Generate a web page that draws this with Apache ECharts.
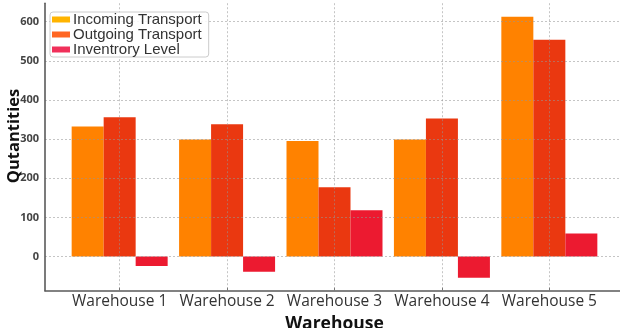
<!DOCTYPE html>
<html>
<head>
<meta charset="utf-8">
<script src="https://cdn.jsdelivr.net/npm/echarts@6/dist/echarts.min.js"></script>
<style>
  html, body { margin: 0; padding: 0; background: #fff; }
  #chart { width: 620px; height: 328px; }
</style>
</head>
<body>
<div id="chart"></div>
<script>
// Warehouse transport figures
const warehouses = ['Warehouse 1', 'Warehouse 2', 'Warehouse 3', 'Warehouse 4', 'Warehouse 5'];
const incomingTransport = [332, 299, 295, 299, 613];
const outgoingTransport = [356, 338, 177, 353, 554];
const inventoryLevel = [-24, -39, 118, -54, 59];
const yTicks = [0, 100, 200, 300, 400, 500, 600];

const seriesNames = ['Incoming Transport', 'Outgoing Transport', 'Inventrory Level'];
const barColors = ['#ff8200', '#ea3810', '#ec1a30'];
const legendColors = ['#ffb400', '#ff6622', '#f0305a'];

const xPositions = warehouses.map((_, i) => i);
const toPairs = values => values.map((v, i) => [xPositions[i], v]);

const chart = echarts.init(document.getElementById('chart'), null, { renderer: 'canvas' });

const gridLine = { show: true, lineStyle: { color: 'rgba(150,150,150,0.55)', type: [2, 2], width: 1 } };

chart.setOption({
  animation: false,
  backgroundColor: '#fff',
  grid: { left: 45, top: 3.2, width: 579, height: 287.5, containLabel: false, outerBoundsMode: 'none' },
  legend: {
    orient: 'vertical',
    left: 50,
    top: 12,
    z: 6,
    itemWidth: 18,
    itemHeight: 6,
    itemGap: 0,
    padding: [0, 7, 0, 2],
    borderColor: '#cccccc',
    borderWidth: 1,
    borderRadius: 3,
    backgroundColor: 'rgba(255,255,255,0.85)',
    icon: 'rect',
    textStyle: { fontFamily: 'Liberation Sans', fontSize: 15, color: '#333', lineHeight: 14, padding: [0, 0, 0, -2] },
    data: seriesNames.map((n, i) => ({ name: n, itemStyle: { color: legendColors[i] } }))
  },
  xAxis: {
    type: 'value',
    min: -0.695,
    max: 4.695,
    z: 3,
    axisLine: { show: true, onZero: false, lineStyle: { color: '#5a5a5a', width: 1.6 } },
    axisTick: { show: true, inside: true, length: 3, customValues: xPositions, lineStyle: { color: '#777' } },
    axisLabel: {
      customValues: xPositions,
      formatter: v => warehouses[Math.round(v)],
      fontFamily: 'Open Sans',
      fontSize: 15.5,
      color: '#333',
      margin: 3,
      lineHeight: 16
    },
    splitLine: gridLine,
    name: 'Warehouse',
    nameLocation: 'middle',
    nameGap: 12.5,
    nameTextStyle: { fontFamily: 'Open Sans', fontWeight: 'bold', fontSize: 17.5, color: '#111', lineHeight: 19 }
  },
  yAxis: {
    type: 'value',
    min: -87.4,
    max: 647.4,
    z: 3,
    axisLine: { show: true, onZero: false, lineStyle: { color: '#5a5a5a', width: 1.6 } },
    axisTick: { show: false, customValues: yTicks },
    axisLabel: {
      customValues: yTicks,
      fontFamily: 'Open Sans',
      fontWeight: 'bold',
      fontSize: 11,
      color: '#444',
      margin: 6
    },
    splitLine: gridLine
  },
  graphic: [{
    type: 'text',
    x: 14.5,
    y: 136,
    rotation: Math.PI / 2,
    style: {
      text: 'Qutantities',
      font: 'bold 16.5px "Open Sans"',
      fill: '#111',
      align: 'center',
      verticalAlign: 'middle'
    }
  }],
  series: [incomingTransport, outgoingTransport, inventoryLevel].map((vals, i) => ({
    name: seriesNames[i],
    type: 'bar',
    data: toPairs(vals),
    barWidth: 32,
    barGap: '0%',
    itemStyle: { color: barColors[i] }
  }))
});
</script>
</body>
</html>
